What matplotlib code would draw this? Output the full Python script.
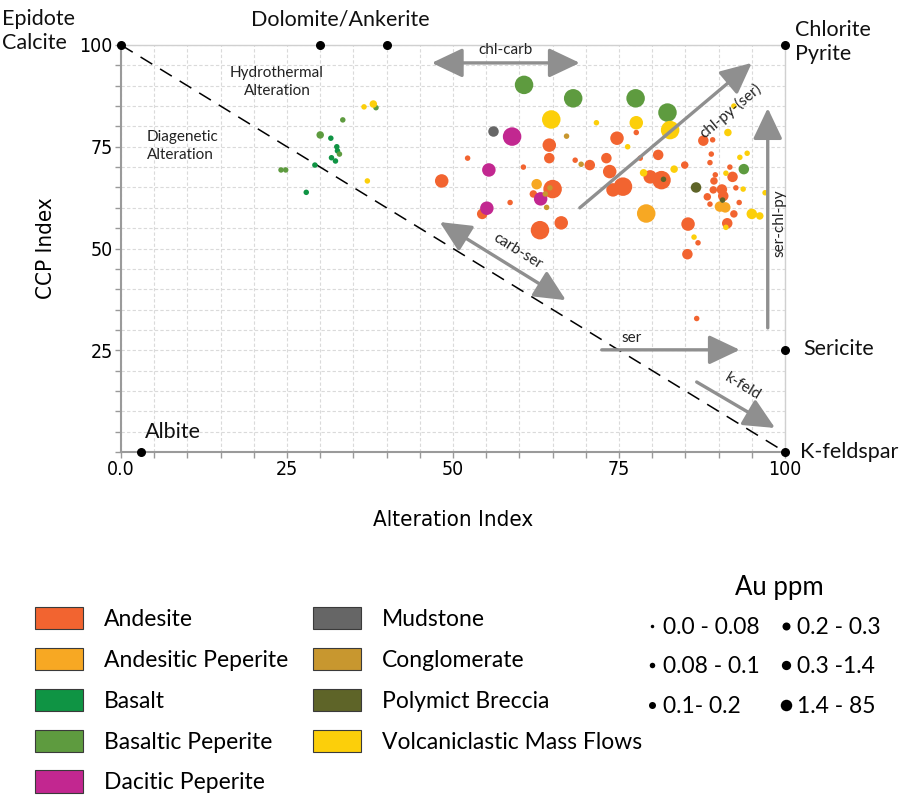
import matplotlib
matplotlib.use("Agg")
import matplotlib.pyplot as plt
from matplotlib.patches import Patch, FancyArrowPatch
from matplotlib.lines import Line2D
from matplotlib.ticker import MultipleLocator, FixedLocator
from matplotlib.font_manager import FontProperties, fontManager

# lithologies and colours
rock_names = ['Andesite', 'Andesitic Peperite', 'Basalt', 'Basaltic Peperite',
              'Dacitic Peperite', 'Mudstone', 'Conglomerate', 'Polymict Breccia',
              'Volcaniclastic Mass Flows']
rock_colors = ['#f26430', '#f7a823', '#0f9444', '#5e9b3f', '#c22790',
               '#666666', '#c8972f', '#5e6428', '#fccf0a']

# Au ppm classes (1..6)
au_labels = ['0.0 - 0.08', '0.08 - 0.1', '0.1- 0.2', '0.2 - 0.3', '0.3 -1.4', '1.4 - 85']

# samples: alteration index, CCP index, Au class, rock index
alt_index = [36.6, 38.0, 38.4, 33.4, 30.0, 31.6, 32.5, 32.6, 32.9, 31.7, 32.3, 29.2, 24.1, 24.8, 37.1, 27.9,
             60.7, 68.1, 64.8, 71.6, 56.0, 58.9, 67.1, 64.5, 64.5, 52.2, 68.4, 69.3, 70.6, 60.6, 55.4, 48.3,
             62.6, 65.0, 64.6, 62.1, 63.9, 63.2, 58.6, 64.1, 55.1, 54.4, 66.3, 63.1,
             77.5, 82.3, 77.6, 82.7, 77.6, 92.3, 91.4, 74.7, 76.3, 87.7, 89.1, 73.1, 78.2, 80.9, 88.9, 93.2,
             94.3, 88.7, 84.9, 83.3, 93.8, 73.6, 78.7, 79.7, 81.4, 81.7, 75.6, 74.1, 91.7, 92.1, 91.1, 89.5,
             89.3, 92.6, 93.7, 86.6, 90.5, 89.2, 88.3, 90.7, 90.6, 97.0, 93.1, 88.7, 90.2, 91.0, 79.1, 92.3,
             95.0, 96.2, 91.3, 91.1, 85.4, 86.3, 86.9, 85.3, 86.7]
ccp_index = [84.8, 85.5, 84.6, 81.6, 77.9, 77.1, 75.0, 74.0, 73.2, 72.3, 71.5, 70.5, 69.3, 69.3, 66.6, 63.8,
             90.2, 86.9, 81.7, 80.9, 78.9, 77.5, 77.6, 75.4, 72.2, 72.2, 71.7, 70.7, 70.5, 70.0, 69.3, 66.6,
             65.8, 64.6, 64.9, 63.4, 63.4, 62.2, 61.3, 60.1, 59.9, 58.5, 56.3, 54.5,
             86.9, 83.4, 80.9, 79.1, 78.5, 85.0, 78.5, 77.1, 75.0, 76.5, 76.7, 72.2, 72.2, 73.0, 73.2, 72.4,
             73.4, 71.1, 70.5, 69.5, 69.5, 68.9, 68.6, 67.6, 66.8, 67.0, 65.2, 64.4, 70.0, 67.6, 68.5, 68.1,
             66.6, 64.9, 64.6, 65.0, 64.5, 64.4, 62.7, 62.9, 61.9, 63.7, 61.3, 60.9, 60.3, 60.1, 58.6, 58.5,
             58.5, 58.0, 56.2, 55.2, 56.0, 52.8, 51.4, 48.6, 32.8]
au_class = [2, 3, 2, 2, 3, 2, 2, 2, 2, 2, 2, 2, 2, 2, 2, 2,
            6, 6, 6, 2, 4, 6, 2, 5, 4, 2, 2, 2, 4, 2, 5, 5,
            4, 6, 2, 3, 2, 5, 2, 2, 5, 4, 5, 6,
            6, 6, 5, 6, 2, 2, 3, 5, 2, 4, 2, 4, 2, 4, 2, 2,
            2, 2, 3, 3, 4, 5, 3, 5, 6, 2, 6, 5, 2, 4, 2, 2,
            3, 2, 2, 4, 4, 3, 3, 4, 2, 2, 2, 2, 4, 4, 6, 3,
            4, 3, 4, 2, 5, 2, 2, 4, 2]
rock = [8, 8, 3, 3, 3, 2, 2, 2, 3, 2, 2, 2, 3, 3, 8, 2,
        3, 3, 8, 8, 5, 4, 6, 0, 0, 0, 0, 6, 0, 0, 4, 0,
        1, 0, 6, 0, 6, 4, 0, 6, 4, 0, 0, 0,
        3, 3, 8, 8, 0, 8, 8, 0, 8, 0, 0, 0, 0, 0, 0, 8,
        8, 0, 0, 8, 3, 0, 8, 0, 0, 7, 0, 0, 0, 0, 8, 0,
        0, 0, 8, 7, 0, 0, 0, 0, 7, 8, 0, 0, 1, 1, 1, 0,
        8, 8, 0, 8, 0, 8, 0, 0, 0]

# end members on the diagram
end_x = [0, 30, 40, 100, 100, 100, 3]
end_y = [100, 100, 100, 100, 25, 0, 0]

# diameter (px) of each Au class in the plot and in the legend
au_px = {1: 3.5, 2: 5.5, 3: 7.5, 4: 10.5, 5: 13.5, 6: 18.5}
leg_px = [3.5, 5.5, 7, 8, 9.3, 11.5]

W, H = 911, 795
def fx(p):
    return p / W
def fy(p):
    return 1 - p / H

narrow_name = 'DejaVu Sans'
for cand in ['Liberation Sans Narrow', 'DejaVu Sans Condensed', 'DejaVu Sans']:
    if cand in [f.name for f in fontManager.ttflist]:
        narrow_name = cand
        break
plain = ['Lato', 'DejaVu Sans']

def nfp(size):
    return FontProperties(family=[narrow_name, 'DejaVu Sans'], stretch='condensed', size=size)

def lfp(size):
    return FontProperties(family=plain, size=size)

fig = plt.figure(figsize=(W / 100, H / 100), dpi=100)
ax = fig.add_axes([fx(121), fy(452), 664 / W, 407 / H])
ax.set_xlim(0, 100)
ax.set_ylim(0, 100)

# grid every 5 units
ax.xaxis.set_major_locator(FixedLocator([0, 25, 50, 75, 100]))
ax.yaxis.set_major_locator(FixedLocator([25, 50, 75, 100]))
ax.xaxis.set_minor_locator(MultipleLocator(5))
ax.yaxis.set_minor_locator(MultipleLocator(5))
ax.grid(True, which='both', color='#dadada', ls=(0, (3, 2)), lw=0.8)
ax.set_axisbelow(True)
ax.set_xticklabels(['0.0', '25', '50', '75', '100'], fontproperties=nfp(14))
ax.set_yticklabels(['25', '50', '75', '100'], fontproperties=nfp(14))
ax.tick_params(which='both', color='#999999', length=4, width=1, pad=2)
for s in ['left', 'bottom']:
    ax.spines[s].set_color('#9a9a9a')
    ax.spines[s].set_linewidth(1.5)
for s in ['top', 'right']:
    ax.spines[s].set_color('#d0d0d0')
    ax.spines[s].set_linewidth(1)

ax.set_xlabel('Alteration Index', fontproperties=nfp(16), labelpad=22)
ax.set_ylabel('CCP Index', fontproperties=nfp(16), labelpad=17)

# boundary between diagenetic and hydrothermal alteration
ax.plot([0, 100], [100, 0], color='black', lw=1.1, ls=(0, (9, 6)), zorder=2)

# samples, one lithology at a time
for k, name in enumerate(rock_names):
    xs = [alt_index[i] for i in range(len(rock)) if rock[i] == k]
    ys = [ccp_index[i] for i in range(len(rock)) if rock[i] == k]
    ss = [(au_px[au_class[i]] * 0.72) ** 2 for i in range(len(rock)) if rock[i] == k]
    ax.scatter(xs, ys, s=ss, color=rock_colors[k], linewidths=0, zorder=3 + k * 0.1)

ax.scatter(end_x, end_y, s=30, color='black', clip_on=False, zorder=6)

# alteration trend arrows
arrows = [((46.8, 95.6), (69.1, 95.6), '<|-|>'),
          ((69.1, 60.0), (95.0, 95.6), '-|>'),
          ((97.4, 30.5), (97.4, 84.5), '-|>'),
          ((48.0, 56.5), (67.0, 37.3), '<|-|>'),
          ((72.4, 25.1), (93.2, 25.1), '-|>'),
          ((86.7, 17.2), (98.5, 5.9), '-|>')]
for a, b, st in arrows:
    ax.add_patch(FancyArrowPatch(a, b, arrowstyle=st + ',head_length=0.95,head_width=0.45',
                                 mutation_scale=20, color='#8f8f8f', lw=2.4,
                                 shrinkA=0, shrinkB=0, zorder=4))

def dx(p):
    return (p - 121) / 6.64
def dy(p):
    return (452 - p) / 4.07

tk = dict(fontsize=11, family=plain, color='#222222', zorder=5)
ax.text(dx(505), dy(50), 'chl-carb', ha='center', va='center', clip_on=False, **tk)
ax.text(dx(731), dy(111), 'chl-py-(ser)', ha='center', va='center', rotation=40, **tk)
ax.text(dx(779), dy(223), 'ser-chl-py', ha='center', va='center', rotation=90, **tk)
ax.text(dx(518), dy(251), 'carb-ser', ha='center', va='center', rotation=-32, **tk)
ax.text(dx(632), dy(338), 'ser', ha='center', va='center', **tk)
ax.text(dx(743), dy(387), 'k-feld', ha='center', va='center', rotation=-31, **tk)
ax.text(dx(277), dy(82), 'Hydrothermal\nAlteration', ha='center', va='center', linespacing=1.3, **tk)
ax.text(dx(147), dy(146), 'Diagenetic\nAlteration', ha='left', va='center', linespacing=1.3, **tk)

lk = dict(fontsize=15.5, family=plain, color='#111111')
fig.text(fx(2), fy(31), 'Epidote\nCalcite', ha='left', va='center', linespacing=1.25, **lk)
fig.text(fx(340), fy(20), 'Dolomite/Ankerite', ha='center', va='center', **lk)
fig.text(fx(795), fy(42), 'Chlorite\nPyrite', ha='left', va='center', linespacing=1.25, **lk)
fig.text(fx(803), fy(349), 'Sericite', ha='left', va='center', **lk)
fig.text(fx(800), fy(452), 'K-feldspar', ha='left', va='center', **lk)
fig.text(fx(145), fy(432), 'Albite', ha='left', va='center', **lk)

# lithology legend, two columns
handles = [Patch(facecolor=c, edgecolor='#3a3a3a', lw=0.8) for c in rock_colors]
lg = dict(frameon=False, prop=lfp(16.5), borderpad=0, borderaxespad=0,
          handlelength=2.1, handleheight=1.13, handletextpad=0.91, labelspacing=0.78,
          loc='upper left', bbox_transform=fig.transFigure)
leg1 = fig.legend(handles[:5], rock_names[:5], bbox_to_anchor=(fx(35), fy(607)), **lg)
leg2 = fig.legend(handles[5:], rock_names[5:], bbox_to_anchor=(fx(313), fy(607)), **lg)

# Au legend
au_handles = [Line2D([], [], marker='o', ls='', color='black', markeredgewidth=0,
                     markersize=d * 0.72) for d in leg_px]
fig.legend(au_handles, au_labels, ncol=2, frameon=False, prop=lfp(16.5),
           borderpad=0, borderaxespad=0, handlelength=0.65, handletextpad=0.12,
           labelspacing=0.8, columnspacing=0.85, loc='upper left',
           bbox_to_anchor=(fx(645), fy(617)), bbox_transform=fig.transFigure)
fig.text(fx(779), fy(587), 'Au ppm', ha='center', va='center', fontproperties=lfp(18.5))

fig.savefig('out.png', dpi=100)
